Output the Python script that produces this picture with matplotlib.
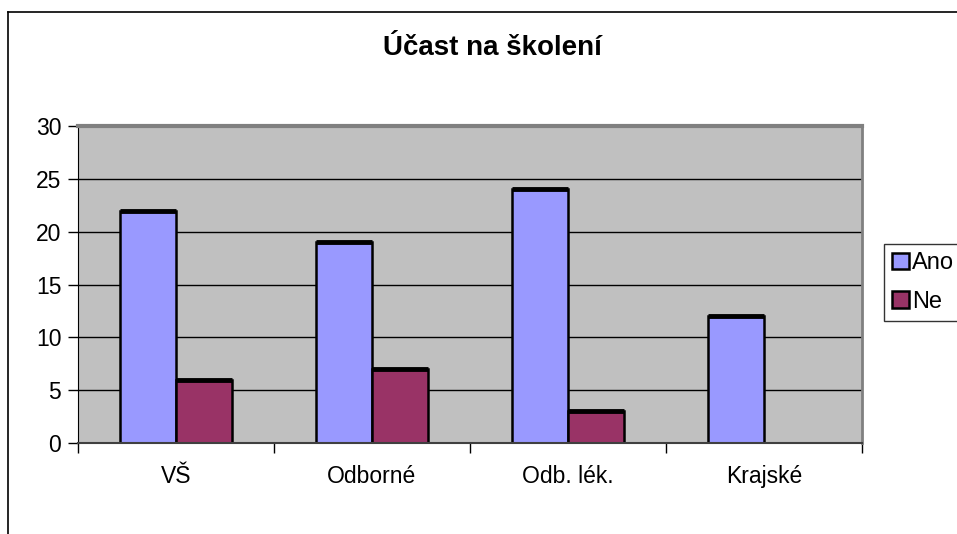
import numpy as np
import matplotlib.pyplot as plt
from matplotlib.lines import Line2D

plt.rcParams['font.family'] = ['Liberation Sans', 'DejaVu Sans']

categories = ['VŠ', 'Odborné', 'Odb. lék.', 'Krajské']
ano = [22, 19, 24, 12]
ne = [6, 7, 3, 0]
yticks = [0, 5, 10, 15, 20, 25, 30]

W, H = 957, 534
fig = plt.figure(figsize=(W / 100, H / 100), dpi=100)
ax = fig.add_axes([78 / W, 1 - 443 / H, (862 - 78) / W, (443 - 126) / H])

ax.set_facecolor('#C0C0C0')
x = np.arange(len(categories)) + 0.5
bw = 0.2857

# gridlines (black, Excel style)
for v in yticks[1:-1]:
    ax.axhline(v, color='black', lw=1, zorder=1)

ax.bar(x - bw / 2, ano, bw, color='#9999FF', edgecolor='black', lw=1.8, zorder=2, label='Ano')
ax.bar(x + bw / 2, ne, bw, color='#993366', edgecolor='black', lw=1.8, zorder=2, label='Ne')
# thick top edge of each bar
for xi, a, n in zip(x, ano, ne):
    ax.plot([xi - bw, xi], [a, a], color='black', lw=3.5, zorder=3, solid_capstyle='butt')
    if n > 0:
        ax.plot([xi, xi + bw], [n, n], color='black', lw=3.5, zorder=3, solid_capstyle='butt')

ax.set_xlim(0, len(categories))
ax.set_ylim(0, 30)
ax.set_yticks(yticks)
ax.set_yticklabels([str(v) for v in yticks], fontsize=16.5)
ax.set_xticks(np.arange(len(categories) + 1))
ax.set_xticklabels([])
ax.set_xticks(x, minor=True)
ax.set_xticklabels(categories, minor=True, fontsize=16.5)
ax.tick_params(axis='x', which='minor', length=0, pad=16)
ax.tick_params(axis='x', which='major', length=7, width=1, direction='out')
ax.tick_params(axis='y', length=7, width=1, direction='out', pad=5)

ax.spines['left'].set_color('black')
ax.spines['bottom'].set_color('#404040')
ax.spines['bottom'].set_linewidth(1.5)
ax.spines['top'].set_color('#808080')
ax.spines['top'].set_linewidth(3)
ax.spines['right'].set_color('#808080')
ax.spines['right'].set_linewidth(2)

fig.text(492 / W, 1 - 48 / H, 'Účast na školení', ha='center', va='center',
         fontsize=20, fontweight='bold')

leg = ax.legend(loc='upper left', bbox_to_anchor=(884 / W, 1 - 244 / H),
                bbox_transform=fig.transFigure, fontsize=17, frameon=True,
                fancybox=False, edgecolor='black', handlelength=0.7,
                handleheight=0.7, handletextpad=0.15, borderpad=0.35,
                labelspacing=0.7, borderaxespad=0)
leg.get_frame().set_linewidth(1)

# chart area border (left and top visible)
fig.add_artist(Line2D([8 / W, 8 / W], [0, 1 - 12 / H], color='black', lw=1.2))
fig.add_artist(Line2D([8 / W, 1], [1 - 12 / H, 1 - 12 / H], color='black', lw=1.2))

fig.savefig('out.png', dpi=100)
